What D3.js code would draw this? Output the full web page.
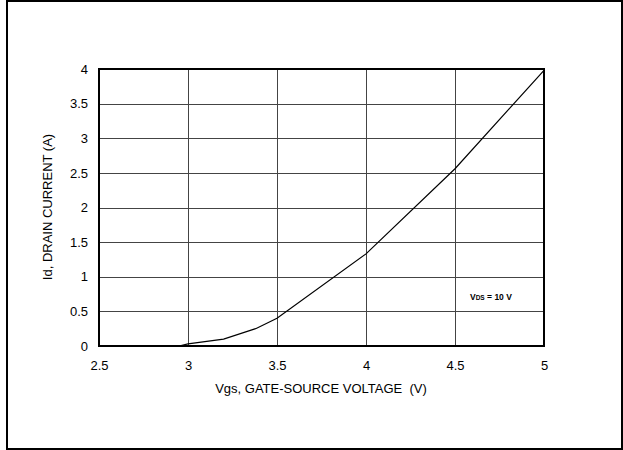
<!DOCTYPE html>
<html><head><meta charset="utf-8">
<script src="https://cdn.jsdelivr.net/npm/d3@7"></script>
<style>body{margin:0;background:#fff}svg{display:block}</style>
</head><body>
<script>
const vgs = [2.5, 2.95, 3.0, 3.2, 3.38, 3.5, 4.0, 4.5, 5.0];
const idA = [0, 0, 0.03, 0.1, 0.25, 0.4, 1.33, 2.56, 3.98];
const xTicks = [2.5, 3, 3.5, 4, 4.5, 5];
const yTicks = [0, 0.5, 1, 1.5, 2, 2.5, 3, 3.5, 4];

const W = 623, H = 450;
const svg = d3.select("body").append("svg").attr("width", W).attr("height", H);
const font = "'Liberation Sans', Arial, sans-serif";

svg.append("rect").attr("x", 7).attr("y", 1).attr("width", 615).attr("height", 448)
  .attr("fill", "none").attr("stroke", "#000").attr("stroke-width", 2);

const x = d3.scaleLinear().domain([2.5, 5]).range([99, 544]);
const y = d3.scaleLinear().domain([0, 4]).range([346, 69]);

const g = svg.append("g");
g.selectAll(".vg").data(xTicks.slice(1, -1)).join("line")
  .attr("x1", d => Math.round(x(d)) + 0.5).attr("x2", d => Math.round(x(d)) + 0.5)
  .attr("y1", y(4)).attr("y2", y(0)).attr("stroke", "#444").attr("stroke-width", 1);
g.selectAll(".hg").data(yTicks.slice(1, -1)).join("line")
  .attr("y1", d => Math.round(y(d)) + 0.5).attr("y2", d => Math.round(y(d)) + 0.5)
  .attr("x1", x(2.5)).attr("x2", x(5)).attr("stroke", "#444").attr("stroke-width", 1);

g.append("rect").attr("x", x(2.5)).attr("y", y(4)).attr("width", x(5) - x(2.5)).attr("height", y(0) - y(4))
  .attr("fill", "none").attr("stroke", "#000").attr("stroke-width", 2);

const line = d3.line().x((d, i) => x(vgs[i])).y(d => y(d));
g.append("path").datum(idA).attr("d", line).attr("fill", "none").attr("stroke", "#000").attr("stroke-width", 1.2);

const xAxis = d3.axisBottom(x).tickValues(xTicks).tickSize(0).tickPadding(15).tickFormat(d3.format("~g"));
const gx = svg.append("g").attr("transform", `translate(0,${y(0)})`).call(xAxis);
gx.select(".domain").remove();
gx.selectAll("text").attr("font-family", font).attr("font-size", 13).attr("fill", "#000");

const yAxis = d3.axisLeft(y).tickValues(yTicks).tickSize(0).tickPadding(11).tickFormat(d3.format("~g"));
const gy = svg.append("g").attr("transform", `translate(${x(2.5)},0)`).call(yAxis);
gy.select(".domain").remove();
gy.selectAll("text").attr("font-family", font).attr("font-size", 13).attr("fill", "#000");

svg.append("text").attr("x", 321).attr("y", 393).attr("text-anchor", "middle")
  .attr("font-family", font).attr("font-size", 13).attr("xml:space", "preserve")
  .text("Vgs, GATE-SOURCE VOLTAGE  (V)");
svg.append("text").attr("transform", "translate(52,207) rotate(-90)").attr("text-anchor", "middle")
  .attr("font-family", font).attr("font-size", 13).text("Id, DRAIN CURRENT (A)");

const ann = svg.append("text").attr("x", 470).attr("y", 300)
  .attr("font-family", font).attr("font-size", 8.5).attr("font-weight", "bold");
ann.append("tspan").text("V");
ann.append("tspan").attr("font-size", 6.5).text("DS");
ann.append("tspan").text(" = 10 V");
</script>
</body></html>
